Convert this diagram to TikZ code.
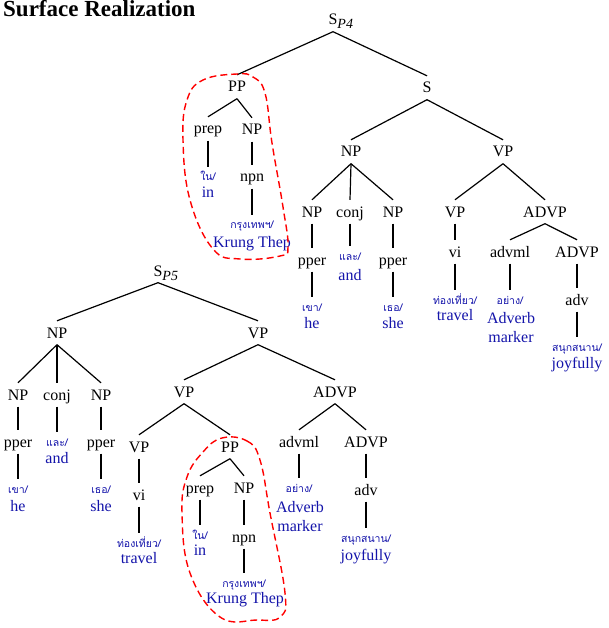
\documentclass[tikz,border=0pt]{standalone}
\usepackage{fontspec}
\setmainfont{Liberation Serif}
\newfontfamily\thaifont[Script=Thai]{Loma}
\definecolor{wblue}{RGB}{20,20,170}
\begin{document}
\begin{tikzpicture}[x=1pt,y=-1pt,
 lab/.style={font=\fontsize{16}{16}\selectfont, anchor=base, text height=14pt, text depth=3.5pt, inner xsep=1pt, inner ysep=3pt},
 thai/.style={font=\fontsize{10.5}{10.5}\thaifont, text=wblue, anchor=base, text height=11pt, text depth=0pt, inner sep=3pt},
 eng/.style={font=\fontsize{16}{16}\selectfont, text=wblue, anchor=base, inner sep=0pt},
 edge/.style={line width=1.2pt},
 blob/.style={red, line width=1.4pt, dash pattern=on 7pt off 4pt}
]
\useasboundingbox (0,0) rectangle (608,628);
\node[anchor=base west, font=\fontsize{23}{23}\selectfont\bfseries, inner sep=0pt] (title) at (3,17) {Surface Realization};

% ---------- top tree ----------
\node[lab] (sp4) at (333,25) {S\rlap{\raisebox{-4pt}{\fontsize{14}{14}\selectfont\itshape P4}}};
\node[lab] (pp1) at (237,92) {PP};
\node[lab] (s1) at (427,93) {S};
\node[lab] (prep1) at (208,134) {prep};
\node[lab] (np1) at (252,135) {NP};
\node[thai] (nai1) at (208,181) {ใน/};
\node[eng] (in1) at (208,197) {in};
\node[lab] (npn1) at (252,182) {npn};
\node[thai] (krt1) at (252,229) {กรุงเทพฯ/};
\node[eng] (kre1) at (252,247) {Krung Thep};
\node[lab] (np2) at (351,157) {NP};
\node[lab] (vp2) at (503,157) {VP};
\node[lab] (np3) at (312,217) {NP};
\node[lab] (conj1) at (350,217) {conj};
\node[lab] (np4) at (393,217) {NP};
\node[lab] (vp3) at (455,217) {VP};
\node[lab] (advp1) at (545,217) {ADVP};
\node[lab] (pper1) at (312,265) {pper};
\node[thai] (lae1) at (350,260) {และ/};
\node[eng] (and1) at (350,280) {and};
\node[lab] (pper2) at (393,265) {pper};
\node[lab] (vi1) at (455,257) {vi};
\node[lab] (advml1) at (510,257) {advml};
\node[lab] (advp2) at (577,257) {ADVP};
\node[thai] (khao1) at (312,311) {เขา/};
\node[eng] (he1) at (312,328) {he};
\node[thai] (thoe1) at (393,311) {เธอ/};
\node[eng] (she1) at (393,328) {she};
\node[thai] (thong1) at (455,304) {ท่องเที่ยว/};
\node[eng] (trav1) at (455,320) {travel};
\node[thai] (yang1) at (510,304) {อย่าง/};
\node[eng] (adverb1) at (511,323) {Adverb};
\node[eng] (marker1) at (511,342) {marker};
\node[lab] (adv1) at (577,305) {adv};
\node[thai] (sanuk1) at (577,351) {สนุกสนาน/};
\node[eng] (joy1) at (577,368) {joyfully};

\foreach \a/\b in {sp4/pp1, sp4/s1, pp1/prep1, pp1/np1, prep1/nai1, np1/npn1, npn1/krt1,
  s1/np2, s1/vp2, np2/np3, np2/conj1, np2/np4, vp2/vp3, vp2/advp1, np3/pper1, conj1/lae1,
  np4/pper2, pper1/khao1, pper2/thoe1, vp3/vi1, vi1/thong1, advp1/advml1, advp1/advp2,
  advml1/yang1, advp2/adv1, adv1/sanuk1}
  \draw[edge] (\a.south) -- (\b.north);

% ---------- bottom tree ----------
\node[lab] (sp5) at (158,276) {S\rlap{\raisebox{-4pt}{\fontsize{14}{14}\selectfont\itshape P5}}};
\node[lab] (np5) at (57,338) {NP};
\node[lab] (vp5) at (258,338) {VP};
\node[lab] (np6) at (18,400) {NP};
\node[lab] (conj2) at (57,400) {conj};
\node[lab] (np7) at (101,400) {NP};
\node[lab] (vp6) at (184,397) {VP};
\node[lab] (advp3) at (335,397) {ADVP};
\node[lab] (pper3) at (18,447) {pper};
\node[thai] (lae2) at (57,446) {และ/};
\node[eng] (and2) at (57,463) {and};
\node[lab] (pper4) at (101,447) {pper};
\node[thai] (khao2) at (18,493) {เขา/};
\node[eng] (he2) at (18,511) {he};
\node[thai] (thoe2) at (101,493) {เธอ/};
\node[eng] (she2) at (101,511) {she};
\node[lab] (vp7) at (139,452) {VP};
\node[lab] (pp2) at (230,452) {PP};
\node[lab] (vi2) at (139,500) {vi};
\node[thai] (thong2) at (139,547) {ท่องเที่ยว/};
\node[eng] (trav2) at (139,563) {travel};
\node[lab] (prep2) at (200,493) {prep};
\node[lab] (np8) at (244,493) {NP};
\node[thai] (nai2) at (200,539) {ใน/};
\node[eng] (in2) at (200,555) {in};
\node[lab] (npn2) at (244,542) {npn};
\node[thai] (krt2) at (244,587) {กรุงเทพฯ/};
\node[eng] (kre2) at (245,603) {Krung Thep};
\node[lab] (advml2) at (299,447) {advml};
\node[lab] (advp4) at (366,447) {ADVP};
\node[thai] (yang2) at (299,492) {อย่าง/};
\node[eng] (adverb2) at (300,512) {Adverb};
\node[eng] (marker2) at (300,531) {marker};
\node[lab] (adv2) at (366,495) {adv};
\node[thai] (sanuk2) at (366,542) {สนุกสนาน/};
\node[eng] (joy2) at (366,560) {joyfully};

\foreach \a/\b in {sp5/np5, sp5/vp5, np5/np6, np5/conj2, np5/np7, np6/pper3, conj2/lae2,
  np7/pper4, pper3/khao2, pper4/thoe2, vp5/vp6, vp5/advp3, vp6/vp7, vp6/pp2, vp7/vi2,
  vi2/thong2, pp2/prep2, pp2/np8, prep2/nai2, np8/npn2, npn2/krt2, advp3/advml2,
  advp3/advp4, advml2/yang2, advp4/adv2, adv2/sanuk2}
  \draw[edge] (\a.south) -- (\b.north);

% ---------- dashed outlines ----------
\draw[blob] plot[smooth cycle, tension=0.7] coordinates {(237,74) (253,77) (265,93) (272,143) (283,207) (288,247) (280,256) (240,259) (213,249) (190,200) (183,140) (187,100) (203,80)};
\draw[blob] plot[smooth cycle, tension=0.7] coordinates {(222,438) (247,441) (260,460) (270,513) (285,593) (280,617) (257,620) (220,617) (190,573) (182,513) (187,477) (203,452)};
\end{tikzpicture}
\end{document}
